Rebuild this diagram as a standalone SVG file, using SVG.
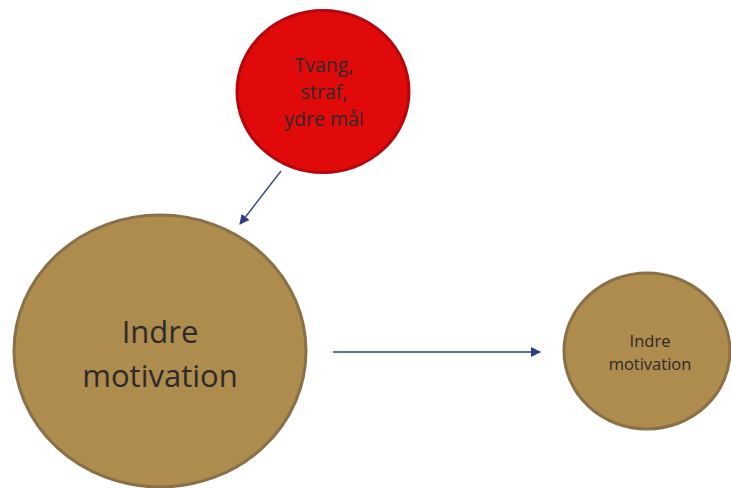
<svg xmlns="http://www.w3.org/2000/svg" width="731" height="488" viewBox="0 0 731 488">
<style>
.red{fill:#e10a0b;stroke:#b3060d;stroke-width:3}
.brown{fill:#ad8c4d;stroke:#8a7048;stroke-width:3}
.t{font-family:"Open Sans","Liberation Sans",sans-serif;fill:#2d2a2a;text-anchor:middle}
.c{stroke:#2f3d85;stroke-width:1.3;fill:none;marker-end:url(#ah)}
</style>
<defs>
<marker id="ah" viewBox="0 0 10 10" refX="9" refY="5" markerWidth="10" markerHeight="10" markerUnits="userSpaceOnUse" orient="auto">
<path d="M0,0 L10,5 L0,10 z" fill="#2f3d85"/>
</marker>
</defs>
<rect width="731" height="488" fill="#ffffff"/>
<g id="tvang">
<ellipse class="red" cx="323" cy="91.5" rx="86" ry="81"/>
<text class="t" font-size="19.5"><tspan x="324" y="72">Tvang,</tspan><tspan x="324" y="99">straf,</tspan><tspan x="324" y="126">ydre mål</tspan></text>
</g>
<g id="indre-stor">
<ellipse class="brown" cx="160" cy="351" rx="146" ry="136"/>
<text class="t" font-size="31"><tspan x="160" y="343">Indre</tspan><tspan x="160" y="387">motivation</tspan></text>
</g>
<g id="indre-lille">
<ellipse class="brown" cx="647" cy="351" rx="83" ry="78"/>
<text class="t" font-size="16.5"><tspan x="650" y="347">Indre</tspan><tspan x="650" y="370">motivation</tspan></text>
</g>
<g id="connectors">
<line class="c" x1="281" y1="171" x2="240" y2="224"/>
<line class="c" x1="333" y1="352" x2="540" y2="352"/>
</g>
</svg>
